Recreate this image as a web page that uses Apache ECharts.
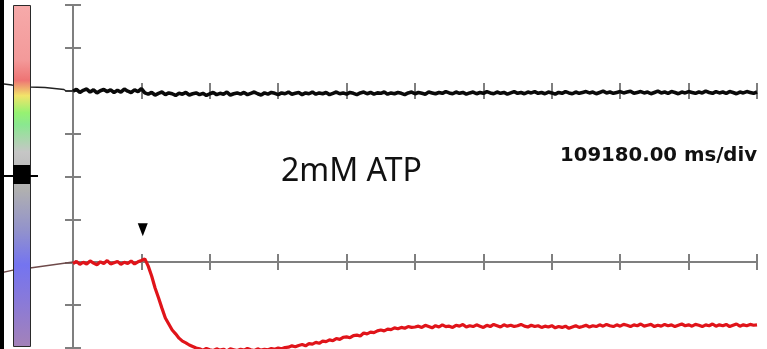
<!DOCTYPE html>
<html>
<head>
<meta charset="utf-8">
<script src="https://cdn.jsdelivr.net/npm/echarts/dist/echarts.min.js"></script>
<style>
html,body{margin:0;padding:0;background:#fff;}
#chart{width:767px;height:349px;}
</style>
</head>
<body>
<div id="chart"></div>
<script>
// ---- data (time in divisions, signal in vertical divisions) ----
const sampleStep = 0.05; // divisions between samples
const redTrace = [
  1.97, 2.02, 1.95, 2.00, 1.96, 2.03, 1.98, 1.94, 2.01, 1.97,
  2.04, 1.96, 1.99, 2.02, 1.95, 2.00, 1.97, 2.03, 1.96, 2.01,
  2.04, 2.08, 1.91, 1.68, 1.40, 1.17, 0.93, 0.70, 0.56, 0.42,
  0.33, 0.23, 0.16, 0.12, 0.07, 0.035, 0.0,
  -0.02, -0.05, -0.01, -0.04, -0.06, -0.02, -0.05, -0.03, -0.07, -0.02,
  -0.04, -0.06, -0.03, -0.05, -0.01, -0.04, -0.06, -0.02, -0.05, -0.03,
  -0.04, -0.01, -0.03, 0.0, -0.02, 0.01,
  0.02, 0.05, 0.03, 0.06, 0.08, 0.05, 0.10, 0.09, 0.13, 0.11,
  0.16, 0.15, 0.19, 0.17, 0.22, 0.20, 0.25, 0.26, 0.24, 0.29,
  0.30, 0.28, 0.35, 0.33, 0.37, 0.36, 0.40, 0.42, 0.40, 0.44,
  0.43, 0.47, 0.45, 0.48, 0.46, 0.50, 0.48, 0.49,
  0.51, 0.48, 0.53, 0.50, 0.47, 0.52, 0.49, 0.54, 0.50, 0.51,
  0.48, 0.53, 0.51, 0.55, 0.49, 0.52, 0.50, 0.54, 0.51, 0.48,
  0.53, 0.50, 0.55, 0.52, 0.49, 0.54, 0.51, 0.53, 0.50, 0.52,
  0.55, 0.51, 0.49, 0.53, 0.50, 0.52, 0.48, 0.51, 0.49, 0.52,
  0.47, 0.50, 0.48, 0.51, 0.46, 0.49, 0.52, 0.48, 0.50, 0.53,
  0.49, 0.52, 0.50, 0.54, 0.51, 0.55, 0.52, 0.50, 0.54, 0.51,
  0.55, 0.53, 0.50, 0.54, 0.52, 0.56, 0.51, 0.53, 0.55, 0.50,
  0.53, 0.51, 0.55, 0.52, 0.54, 0.50, 0.53, 0.56, 0.52, 0.54,
  0.51, 0.55, 0.53, 0.50, 0.54, 0.52, 0.56, 0.51, 0.54, 0.52,
  0.55, 0.50, 0.53, 0.56, 0.51, 0.54, 0.52, 0.55, 0.53, 0.54
];
const blackTrace = [
  5.99, 6.03, 5.96, 6.01, 6.04, 5.97, 6.02, 5.95, 6.00, 6.03,
  5.98, 6.02, 5.96, 6.01, 5.97, 6.04, 5.99, 5.96, 6.02, 5.98,
  6.05, 5.95, 5.92, 5.96, 5.90, 5.94, 5.97, 5.91, 5.95, 5.93,
  5.89, 5.94, 5.92, 5.96, 5.90, 5.93, 5.95, 5.91, 5.94, 5.89,
  5.93, 5.96, 5.91, 5.94, 5.92, 5.97, 5.90, 5.93, 5.95, 5.92,
  5.96, 5.91, 5.94, 5.97, 5.93, 5.90, 5.95, 5.92, 5.96, 5.94,
  5.91, 5.95, 5.93, 5.97, 5.92, 5.94, 5.96, 5.91, 5.95, 5.93,
  5.97, 5.92, 5.95, 5.93, 5.96, 5.91, 5.94, 5.97, 5.93, 5.95,
  5.92, 5.96, 5.94, 5.91, 5.95, 5.97, 5.93, 5.96, 5.92, 5.95,
  5.94, 5.97, 5.92, 5.95, 5.93, 5.96, 5.94, 5.91, 5.95, 5.97,
  5.93, 5.96, 5.94, 5.92, 5.97, 5.95, 5.93, 5.96, 5.94, 5.98,
  5.95, 5.93, 5.97, 5.94, 5.96, 5.92, 5.95, 5.97, 5.93, 5.96,
  5.94, 5.98, 5.95, 5.93, 5.97, 5.94, 5.96, 5.92, 5.95, 5.98,
  5.94, 5.96, 5.93, 5.97, 5.95, 5.98, 5.94, 5.96, 5.93, 5.97,
  5.95, 5.92, 5.96, 5.94, 5.98, 5.95, 5.93, 5.97, 5.94, 5.96,
  5.98, 5.95, 5.97, 5.93, 5.96, 5.99, 5.95, 5.97, 5.94, 5.96,
  5.98, 5.95, 5.97, 5.99, 5.94, 5.96, 5.98, 5.95, 5.97, 5.93,
  5.96, 5.99, 5.95, 5.97, 5.94, 5.98, 5.96, 5.93, 5.97, 5.95,
  5.98, 5.96, 5.94, 5.97, 5.95, 5.99, 5.96, 5.94, 5.98, 5.95,
  5.97, 5.94, 5.98, 5.96, 5.93, 5.97, 5.95, 5.98, 5.96, 5.94,
  5.97
];
// offset-level leads drawn left of the time origin (time, level)
const blackLeadTime  = [-1.067, -0.892, -0.629, -0.409, -0.395, -0.132, -0.102, 0];
const blackLeadLevel = [6.169, 6.134, 6.087, 6.076, 6.041, 6.029, 5.994, 5.994];
const redLeadTime  = [-1.067, -0.877, -0.629, 0];
const redLeadLevel = [1.749, 1.819, 1.866, 2.006];
// stimulus marker
const stimTime = [1.02];
const stimLevel = [2.76];
const annotationText = '2mM ATP';
const timebaseText = '109180.00 ms/div';

// ---- build ----
const toPairs = (arr) => arr.map((v, i) => [+(i * sampleStep).toFixed(3), v]);
const zip = (a, b) => a.map((v, i) => [v, b[i]]);

const gray = '#7f7f7f';
const tickAxis = (grid, inside, showLine) => ({
  gridIndex: grid, type: 'value', min: 0, max: 10, interval: 1, position: 'bottom',
  axisLine: { show: showLine, onZero: false, lineStyle: { color: gray, width: 2 } },
  axisTick: { show: true, inside: inside, length: 8, lineStyle: { color: gray, width: 2 } },
  axisLabel: { show: false }, splitLine: { show: false }
});
const yTickAxis = (inside, showLine) => ({
  gridIndex: 0, type: 'value', min: 0, max: 8, interval: 1, position: 'left',
  axisLine: { show: showLine, onZero: false, lineStyle: { color: gray, width: 2 } },
  axisTick: { show: true, inside: inside, length: 8, lineStyle: { color: gray, width: 2 } },
  axisLabel: { show: false }, splitLine: { show: false }
});

const chart = echarts.init(document.getElementById('chart'), null, { renderer: 'canvas' });
chart.setOption({
  animation: false,
  backgroundColor: '#ffffff',
  grid: [
    { left: 73, right: 10, top: 5, height: 343 },
    { left: 73, right: 10, top: 5, height: 257 },
    { left: 73, right: 10, top: 5, height: 86 },
    { left: 0, width: 73, top: 5, height: 343 }
  ],
  xAxis: [
    { gridIndex: 0, type: 'value', min: 0, max: 10, show: false },
    tickAxis(1, false, true),
    tickAxis(1, true, false),
    tickAxis(2, false, false),
    tickAxis(2, true, false),
    { gridIndex: 3, type: 'value', min: -1.067, max: 0, show: false }
  ],
  yAxis: [
    yTickAxis(false, true),
    yTickAxis(true, false),
    { gridIndex: 1, type: 'value', min: 0, max: 1, show: false },
    { gridIndex: 2, type: 'value', min: 0, max: 1, show: false },
    { gridIndex: 3, type: 'value', min: 0, max: 8, show: false }
  ],
  series: [
    { type: 'line', xAxisIndex: 5, yAxisIndex: 4, data: zip(blackLeadTime, blackLeadLevel),
      symbol: 'none', lineStyle: { color: '#222', width: 1.3 }, z: 1 },
    { type: 'line', xAxisIndex: 5, yAxisIndex: 4, data: zip(redLeadTime, redLeadLevel),
      symbol: 'none', lineStyle: { color: '#6e4a4a', width: 1.3 }, z: 1 },
    { type: 'line', name: 'black', xAxisIndex: 0, yAxisIndex: 0, data: toPairs(blackTrace),
      symbol: 'none', clip: false, lineStyle: { color: '#0a0a0a', width: 3.6 }, z: 3 },
    { type: 'line', name: 'red', xAxisIndex: 0, yAxisIndex: 0, data: toPairs(redTrace),
      symbol: 'none', clip: false, lineStyle: { color: '#e0141a', width: 3.2 }, z: 3 },
    { type: 'scatter', xAxisIndex: 0, yAxisIndex: 0, data: zip(stimTime, stimLevel),
      symbol: 'triangle', symbolRotate: 180, symbolSize: [10, 13], clip: false,
      itemStyle: { color: '#000', opacity: 1 }, z: 4 }
  ],
  graphic: [
    { type: 'rect', left: 0, top: 0, z: 100, shape: { width: 4, height: 349 }, style: { fill: '#000' } },
    { type: 'rect', left: 13, top: 5, z: 100,
      shape: { width: 17, height: 341 },
      style: {
        stroke: '#2a2a2a', lineWidth: 1,
        fill: new echarts.graphic.LinearGradient(0, 0, 0, 1, [
          { offset: 0.00, color: '#f6aaaa' },
          { offset: 0.16, color: '#f39a9a' },
          { offset: 0.22, color: '#ee7474' },
          { offset: 0.265, color: '#f2e46a' },
          { offset: 0.315, color: '#96f272' },
          { offset: 0.35, color: '#8ae890' },
          { offset: 0.43, color: '#c6c6c6' },
          { offset: 0.54, color: '#b0b0b0' },
          { offset: 0.66, color: '#9292cc' },
          { offset: 0.76, color: '#7474f0' },
          { offset: 0.87, color: '#8a7ad8' },
          { offset: 1.00, color: '#a482b8' }
        ])
      } },
    { type: 'rect', left: 13, top: 165, z: 101, shape: { width: 17, height: 19 }, style: { fill: '#000' } },
    { type: 'rect', left: 0, top: 175, z: 101, shape: { width: 38, height: 2 }, style: { fill: '#000' } },
    { type: 'text', left: 281, top: 156, z: 102,
      style: { text: annotationText, font: '32px "Noto Sans"', fill: '#111' } },
    { type: 'text', right: 10, top: 146, z: 102,
      style: { text: timebaseText, font: 'bold 19.7px "DejaVu Sans"', fill: '#111' } }
  ]
});
</script>
</body>
</html>
